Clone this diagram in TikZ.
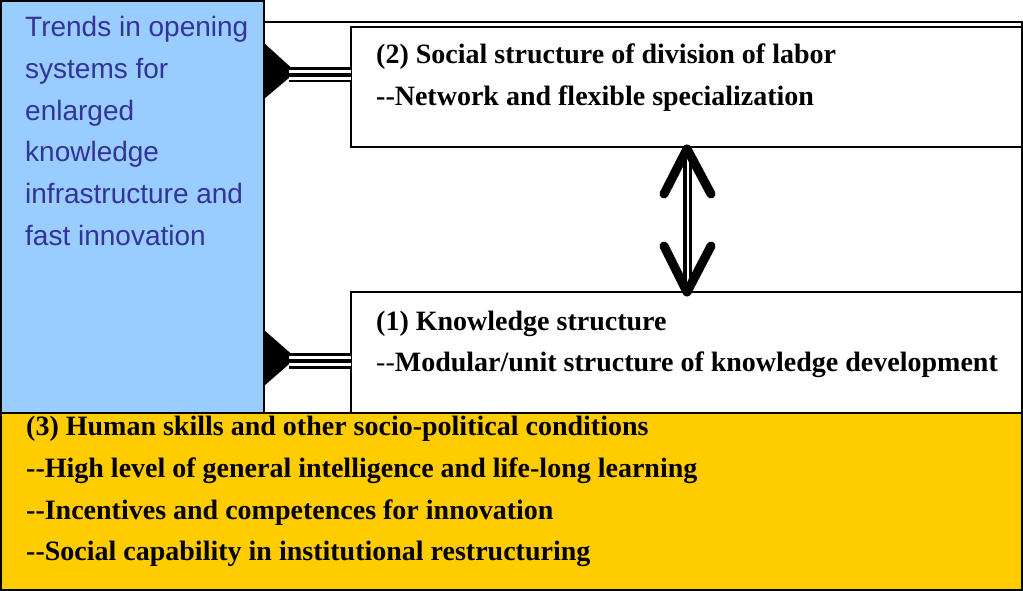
\documentclass[tikz,border=0pt]{standalone}
\usepackage{fontspec}
\setmainfont{Liberation Serif}
\newfontfamily\arialfont{Liberation Sans}
\definecolor{paleblue}{HTML}{99CCFF}
\definecolor{inkblue}{HTML}{333399}
\definecolor{gold}{HTML}{FFCC00}
% two hyphens without the en-dash ligature
\newcommand{\dd}{-{}-}
\begin{document}
\begin{tikzpicture}[x=1pt,y=-1pt,
  panel/.style={draw=black, line width=1.6pt, inner sep=0pt, outer sep=0pt, anchor=north west},
  bodytext/.style={inner sep=0pt, anchor=base west, font=\fontsize{28}{42}\selectfont\bfseries},
  sidetext/.style={inner sep=0pt, anchor=base west, text=inkblue, font=\arialfont\fontsize{28}{42}\selectfont},
  vhead/.style={line width=9pt, line cap=round, line join=round},
]
\useasboundingbox (0,0) rectangle (1023,591);

% panels
\node[panel, fill=white, minimum width=1021, minimum height=569] (frame) at (1,22) {};
\node[panel, fill=gold, minimum width=1021, minimum height=177] (skills) at (1,413) {};
\node[panel, fill=paleblue, minimum width=263, minimum height=412] (trends) at (1,1) {};
\node[panel, fill=white, minimum width=671, minimum height=120] (social) at (351,27) {};
\node[panel, fill=white, minimum width=671, minimum height=121] (knowledge) at (351,292) {};

% links from the two structure boxes to the trends box
\coordinate (tipA) at (296,72);
\coordinate (tipB) at (296,358);
\fill (trends.east |- 0,43) -- (tipA) -- (trends.east |- 0,99) -- cycle;
\fill (trends.east |- 0,330) -- (tipB) -- (trends.east |- 0,386) -- cycle;
\draw[line width=15pt] (289,75) -- (social.west |- 0,75);
\draw[line width=10.5pt, white] (289,75) -- (social.west |- 0,75);
\draw[line width=4.5pt] (289,75) -- (social.west |- 0,75);
\draw[line width=16pt] (289,361) -- (knowledge.west |- 0,361);
\draw[line width=10pt, white] (289,361) -- (knowledge.west |- 0,361);
\draw[line width=3.4pt] (289,361) -- (knowledge.west |- 0,361);

% two-way link between the structure boxes
\coordinate (vtop) at (687,149);
\coordinate (vbot) at (687,292);
\draw[line width=9pt] (social.south -| vtop) -- (knowledge.north -| vtop);
\draw[line width=1.8pt, white] ([xshift=1pt]social.south -| vtop) -- ([xshift=1pt]knowledge.north -| vtop);
\draw[vhead] (664,194) -- (vtop) -- (711,194);
\draw[vhead] (664,246) -- (vbot) -- (711,246);

% trends box text
\node[sidetext] (tr1) at (25,37) {Trends in opening};
\node[sidetext] (tr2) at (25,78.6) {systems for};
\node[sidetext] (tr3) at (25,120.2) {enlarged};
\node[sidetext] (tr4) at (25,161.8) {knowledge};
\node[sidetext] (tr5) at (25,203.4) {infrastructure and};
\node[sidetext] (tr6) at (25,245) {fast innovation};

% structure box text
\node[bodytext] (so1) at (376,64) {(2) Social structure of division of labor};
\node[bodytext] (so2) at (376,106) {\dd Network and flexible specialization};
\node[bodytext] (kn1) at (376,330) {(1) Knowledge structure};
\node[bodytext] (kn2) at (376,371) {{\mdseries\dd}Modular/unit structure of knowledge development};

% skills box text
\node[bodytext] (sk1) at (26,435) {(3) Human skills and other socio-political conditions};
\node[bodytext] (sk2) at (26,477) {\dd High level of general intelligence and life-long learning};
\node[bodytext] (sk3) at (26,519) {\dd Incentives and competences for innovation};
\node[bodytext] (sk4) at (26,560) {\dd Social capability in institutional restructuring};
\end{tikzpicture}
\end{document}
